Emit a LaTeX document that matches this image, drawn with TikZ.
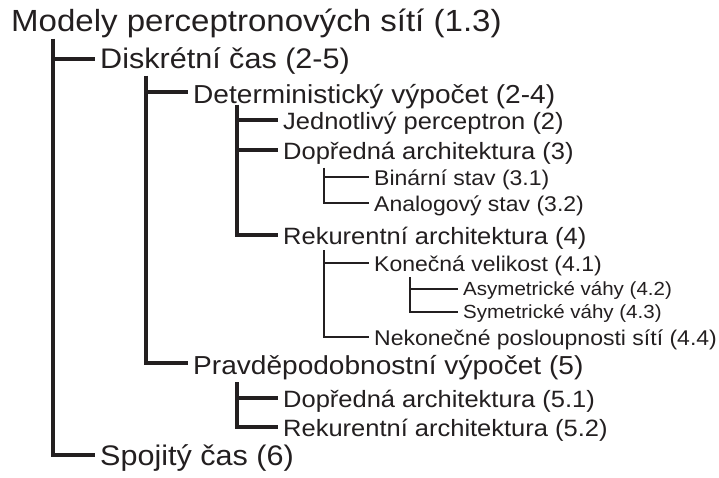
\documentclass[tikz,border=0pt]{standalone}
\usepackage{fontspec}
\setmainfont[FakeStretch=1.08]{Liberation Sans}
\definecolor{ink}{RGB}{35,31,32}
\begin{document}
\begin{tikzpicture}[x=1pt,y=-1pt,
  lbl/.style={anchor=west, inner xsep=5pt, inner ysep=0pt, text depth=0pt, text=ink},
  l1/.style={lbl, font=\fontsize{28.3}{30}\selectfont, text height=20pt},
  l2/.style={lbl, font=\fontsize{26}{28}\selectfont, text height=23pt},
  l3/.style={lbl, font=\fontsize{23.6}{26}\selectfont, text height=19pt},
  l4/.style={lbl, font=\fontsize{21.3}{24}\selectfont, text height=17pt},
  l5/.style={lbl, font=\fontsize{19}{21}\selectfont, text height=12pt},
  w1/.style={draw=ink, line width=4.3pt},
  w2/.style={draw=ink, line width=4pt},
  w3/.style={draw=ink, line width=3.3pt},
  w4/.style={draw=ink, line width=2.4pt},
  w5/.style={draw=ink, line width=1.3pt}]
\useasboundingbox[fill=white] (0,0) rectangle (719,478);

\node[anchor=base west, inner sep=0pt, text=ink, font=\fontsize{30.6}{32}\selectfont] (root) at (11,32) {Modely perceptronových sítí (1.3)};

% level 1
\coordinate (t1) at (53,39);
\node[l1] (dis) at (95,59) {Diskrétní čas (2-5)};
\node[l1] (spo) at (95,455) {Spojitý čas (6)};
\draw[w1] (t1) |- (dis.west);
\draw[w1] (t1) |- (spo.west);

% level 2
\coordinate (t2) at (146,76);
\node[l2] (det) at (188,92) {Deterministický výpočet (2-4)};
\node[l2] (pra) at (188,363) {Pravděpodobnostní výpočet (5)};
\draw[w2] (t2) |- (det.west);
\draw[w2] (t2) |- (pra.west);

% level 3 under deterministic
\coordinate (t3) at (237,105);
\node[l3] (jed) at (278,120) {Jednotlivý perceptron (2)};
\node[l3] (dop) at (278,150) {Dopředná architektura (3)};
\node[l3] (rek) at (278,235) {Rekurentní architektura (4)};
\draw[w3] (t3) |- (jed.west);
\draw[w3] (t3) |- (dop.west);
\draw[w3] (t3) |- (rek.west);

% level 4 under feed-forward
\coordinate (t4a) at (324,168);
\node[l4] (bin) at (369,177) {Binární stav (3.1)};
\node[l4] (ana) at (369,203) {Analogový stav (3.2)};
\draw[w4] (t4a) |- (bin.west);
\draw[w4] (t4a) |- (ana.west);

% level 4 under recurrent
\coordinate (t4b) at (324,250);
\node[l4] (kon) at (369,263) {Konečná velikost (4.1)};
\node[l4] (nek) at (369,337) {Nekonečné posloupnosti sítí (4.4)};
\draw[w4] (t4b) |- (kon.west);
\draw[w4] (t4b) |- (nek.west);

% level 5 under finite size
\coordinate (t5) at (410,277);
\node[l5] (asy) at (458,289) {Asymetrické váhy (4.2)};
\node[l5] (sym) at (458,312) {Symetrické váhy (4.3)};
\draw[w5] (t5) |- (asy.west);
\draw[w5] (t5) |- (sym.west);

% level 3 under probabilistic
\coordinate (t3b) at (237,382);
\node[l3] (dopb) at (278,398) {Dopředná architektura (5.1)};
\node[l3] (rekb) at (278,427) {Rekurentní architektura (5.2)};
\draw[w3] (t3b) |- (dopb.west);
\draw[w3] (t3b) |- (rekb.west);
\end{tikzpicture}
\end{document}
